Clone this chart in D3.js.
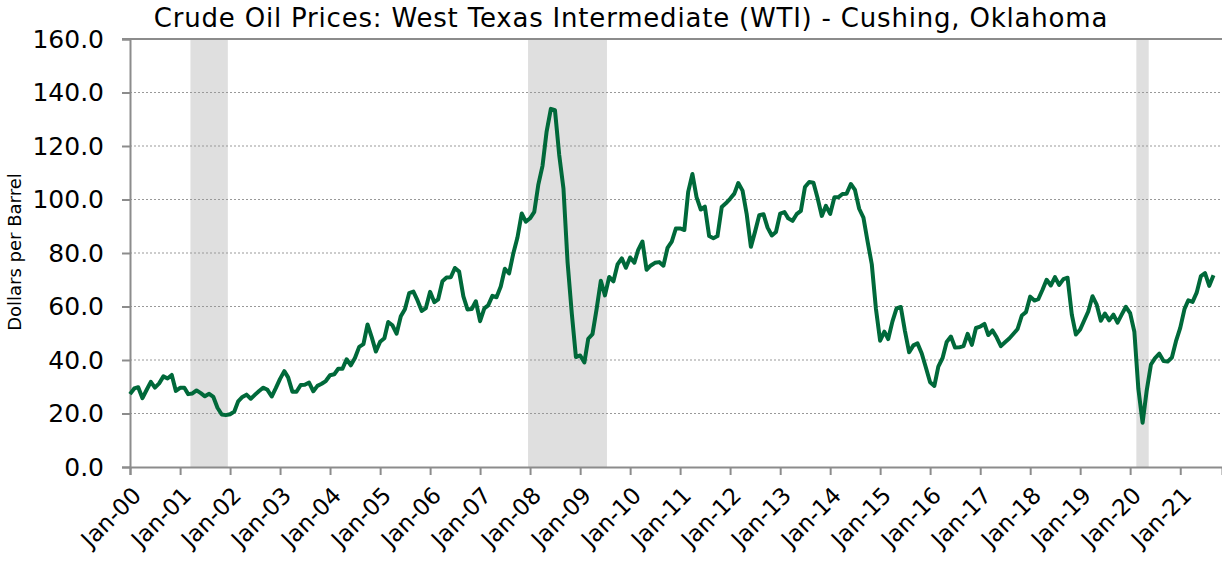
<!DOCTYPE html>
<html>
<head>
<meta charset="utf-8">
<script src="https://cdn.jsdelivr.net/npm/d3@7"></script>
<style>
  body { margin: 0; background: #fff; }
  svg { display: block; font-family: Verdana, "DejaVu Sans", sans-serif; }
</style>
</head>
<body>
<script>
// monthly WTI spot price, dollars per barrel, starting Jan 2000
var startYear = 2000;
var prices = [
  27.26, 29.37, 29.84, 25.72, 28.79, 31.82, 29.70, 31.26, 33.88, 33.11, 34.42, 28.44,
  29.59, 29.61, 27.24, 27.49, 28.63, 27.60, 26.43, 27.37, 26.20, 22.17, 19.64, 19.39,
  19.72, 20.72, 24.53, 26.18, 27.04, 25.52, 26.97, 28.39, 29.66, 28.84, 26.35, 29.46,
  32.95, 35.83, 33.51, 28.17, 28.11, 30.66, 30.76, 31.57, 28.31, 30.34, 31.11, 32.13,
  34.31, 34.69, 36.74, 36.75, 40.28, 38.03, 40.78, 44.90, 45.94, 53.28, 48.47, 43.15,
  46.84, 48.15, 54.19, 52.98, 49.83, 56.35, 59.00, 64.99, 65.59, 62.26, 58.32, 59.41,
  65.49, 61.63, 62.69, 69.44, 70.84, 70.95, 74.41, 73.04, 63.80, 58.89, 59.08, 61.96,
  54.51, 59.28, 60.44, 63.98, 63.46, 67.49, 74.12, 72.36, 79.92, 85.80, 94.77, 91.69,
  92.97, 95.39, 105.45, 112.58, 125.40, 133.88, 133.37, 116.67, 104.11, 76.61, 57.31, 41.12,
  41.71, 39.09, 47.94, 49.65, 59.03, 69.64, 64.15, 71.05, 69.41, 75.72, 77.99, 74.47,
  78.33, 76.39, 81.20, 84.29, 73.74, 75.34, 76.32, 76.60, 75.24, 81.89, 84.25, 89.15,
  89.17, 88.58, 102.86, 109.53, 100.90, 96.26, 97.30, 86.33, 85.52, 86.32, 97.16, 98.56,
  100.27, 102.20, 106.16, 103.32, 94.66, 82.30, 87.90, 94.13, 94.51, 89.49, 86.53, 87.86,
  94.76, 95.31, 92.94, 92.02, 94.51, 95.77, 104.67, 106.57, 106.29, 100.54, 93.86, 97.63,
  94.62, 100.82, 100.80, 102.07, 102.18, 105.79, 103.59, 96.54, 93.21, 84.40, 75.79, 59.29,
  47.22, 50.58, 47.82, 54.45, 59.27, 59.82, 50.90, 42.87, 45.48, 46.22, 42.44, 37.19,
  31.68, 30.32, 37.55, 40.75, 46.71, 48.76, 44.65, 44.72, 45.18, 49.78, 45.66, 51.97,
  52.50, 53.47, 49.33, 51.06, 48.48, 45.18, 46.63, 48.04, 49.82, 51.58, 56.64, 57.88,
  63.70, 62.23, 62.73, 66.25, 69.98, 67.87, 70.98, 68.06, 70.23, 70.75, 56.96, 49.52,
  51.38, 54.95, 58.15, 63.86, 60.83, 54.66, 57.35, 54.81, 56.95, 53.96, 57.03, 59.88,
  57.52, 50.54, 29.21, 16.55, 28.56, 38.31, 40.71, 42.34, 39.63, 39.40, 40.94, 47.02,
  52.00, 59.04, 62.33, 61.72, 65.17, 71.38, 72.49, 67.73, 71.65
];

// recession shading, [start, end] as "year-month"
var recessions = [["2001-04", "2001-12"], ["2008-01", "2009-07"], ["2020-03", "2020-05"]];

var yTicks = [0, 20, 40, 60, 80, 100, 120, 140, 160];
var xTickYears = d3.range(2000, 2022);
var title = "Crude Oil Prices: West Texas Intermediate (WTI) - Cushing, Oklahoma";

var width = 1222, height = 563;
var margin = {top: 39, right: 0, bottom: 96, left: 130};

var svg = d3.select("body").append("svg")
    .attr("width", width)
    .attr("height", height);

var parseMonth = d3.timeParse("%Y-%m");

var data = prices.map(function(v, i) {
  return {date: new Date(startYear + Math.floor(i / 12), i % 12, 1), value: v};
});

var x = d3.scaleTime()
    .domain([new Date(2000, 0, 1), new Date(2021, 10, 2)])
    .range([margin.left, width - margin.right]);

var y = d3.scaleLinear()
    .domain([0, 160])
    .range([height - margin.bottom, margin.top]);

// recession bars (a little wider than the month span, like the column bars)
var pad = 2;
svg.selectAll(".recession")
    .data(recessions)
    .enter().append("rect")
    .attr("class", "recession")
    .attr("x", function(d) { return x(parseMonth(d[0])) - pad; })
    .attr("width", function(d) { return x(parseMonth(d[1])) - x(parseMonth(d[0])) + 2 * pad; })
    .attr("y", y(160))
    .attr("height", y(0) - y(160))
    .style("fill", "#dfdfdf");

// grid
svg.append("g")
    .selectAll("line")
    .data(yTicks.filter(function(d) { return d > 0 && d < 160; }))
    .enter().append("line")
    .attr("x1", margin.left)
    .attr("x2", width)
    .attr("y1", function(d) { return y(d); })
    .attr("y2", function(d) { return y(d); })
    .style("stroke", "#999")
    .style("stroke-width", 1)
    .style("stroke-dasharray", "2,2");

// top border
svg.append("line")
    .attr("x1", margin.left - 8)
    .attr("x2", width)
    .attr("y1", y(160))
    .attr("y2", y(160))
    .style("stroke", "#8c8c8c")
    .style("stroke-width", 2);

// y axis
var yAxis = svg.append("g")
    .attr("transform", "translate(" + margin.left + ",0)")
    .call(d3.axisLeft(y).tickValues(yTicks).tickSize(8).tickPadding(18)
      .tickFormat(d3.format(".1f")));
yAxis.select(".domain").style("stroke", "#8c8c8c").style("stroke-width", 2);
yAxis.selectAll(".tick line").style("stroke", "#8c8c8c").style("stroke-width", 2);
yAxis.selectAll("text")
    .style("font-family", "Verdana, 'DejaVu Sans', sans-serif")
    .style("font-size", "25px")
    .style("fill", "#000");

// x axis
var xAxis = svg.append("g")
    .attr("transform", "translate(0," + y(0) + ")")
    .call(d3.axisBottom(x)
      .tickValues(xTickYears.map(function(yr) { return new Date(yr, 0, 1); }))
      .tickSize(8)
      .tickFormat(d3.timeFormat("%b-%y")));
xAxis.select(".domain").style("stroke", "#8c8c8c").style("stroke-width", 2);
xAxis.selectAll(".tick line").style("stroke", "#8c8c8c").style("stroke-width", 2);
xAxis.selectAll("text")
    .style("font-family", "Verdana, 'DejaVu Sans', sans-serif")
    .style("font-size", "23px")
    .style("fill", "#000")
    .attr("text-anchor", "end")
    .attr("y", 0)
    .attr("dy", 0)
    .attr("transform", "translate(12,30) rotate(-45)");

// price line
var line = d3.line()
    .x(function(d) { return x(d.date); })
    .y(function(d) { return y(d.value); });

svg.append("path")
    .datum(data)
    .attr("d", line)
    .style("fill", "none")
    .style("stroke", "#00693a")
    .style("stroke-width", 4)
    .style("stroke-linejoin", "round");

// title
svg.append("text")
    .attr("x", 631)
    .attr("y", 27)
    .attr("text-anchor", "middle")
    .style("font-size", "26px")
    .style("letter-spacing", "0.8px")
    .text(title);

// y axis title
svg.append("text")
    .attr("transform", "translate(21,252) rotate(-90)")
    .attr("text-anchor", "middle")
    .style("font-size", "18px")
    .text("Dollars per Barrel");
</script>
</body>
</html>
